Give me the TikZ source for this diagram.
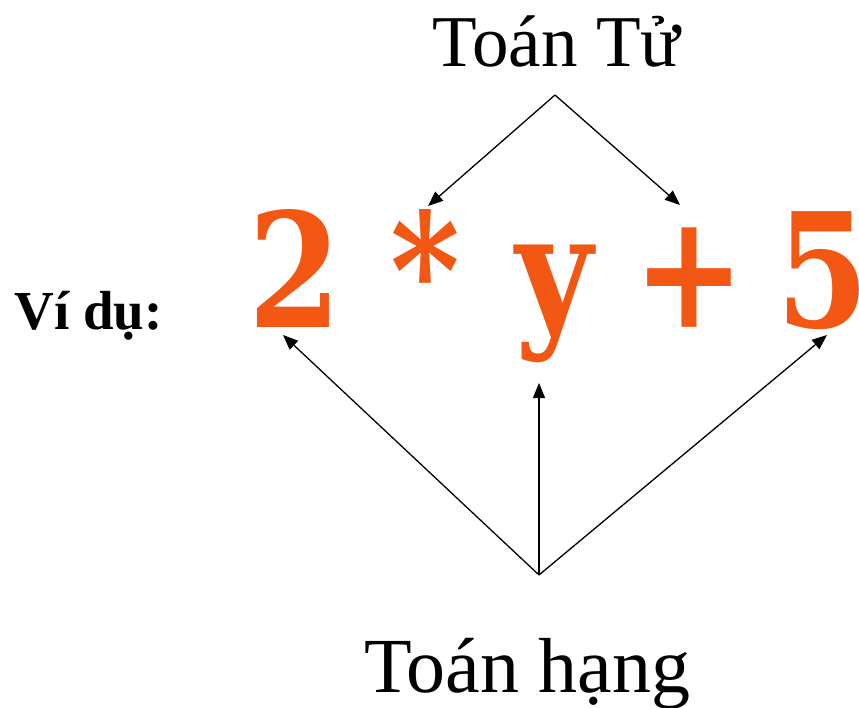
\documentclass[tikz,border=0pt]{standalone}
\usepackage{fontspec}
\setmainfont{Liberation Serif}
\newfontfamily\exprfont[FakeStretch=0.84]{DejaVu Serif}
\usepackage{xcolor}
\usetikzlibrary{arrows.meta,calc}
\definecolor{exprorange}{RGB}{242,88,20}

\begin{document}
\begin{tikzpicture}[
    x=1pt, y=-1pt,
    title/.style={inner sep=0pt, anchor=base},
    glyph/.style={inner sep=0pt, anchor=base, text=exprorange,
                  font=\exprfont\bfseries\fontsize{159}{159}\selectfont},
    arr/.style={-{Triangle[length=15pt,width=12pt]}, line width=1.3pt},
  ]
  \useasboundingbox (0,0) rectangle (859,708);
  % Titles
  \node[title, font=\fontsize{73}{73}\selectfont] (opTitle) at (556.5,67) {Toán Tử};
  \node[title, font=\bfseries\fontsize{55}{55}\selectfont] (example) at (88.5,330) {Ví dụ:};
  \node[title, font=\fontsize{78}{78}\selectfont] (operandTitle) at (527.5,692) {Toán hạng};
  % Expression
  \node[glyph] (two)  at (295,328)   {2};
  \node[glyph] (star) at (425,328)   {*};
  \node[glyph] (var)  at (554.5,328) {y};
  \node[glyph] (plus) at (689.5,328) {+};
  \node[glyph] (five) at (823,328)   {5};
  % Fork points and tips
  \coordinate (opFork) at (555,95);
  \coordinate (operandFork) at (539,575);
  \coordinate (starTip) at (428,206);
  \coordinate (plusTip) at (680,205);
  \coordinate (twoTip)  at (283,335);
  \coordinate (varTip)  at (539,383);
  \coordinate (fiveTip) at (827,335);

  \draw[arr] (opFork) -- (starTip);
  \draw[arr] (opFork) -- (plusTip);
  \draw[arr] (operandFork) -- (twoTip);
  \draw[arr] (operandFork) -- (varTip);
  \draw[arr] (operandFork) -- (fiveTip);
\end{tikzpicture}
\end{document}
